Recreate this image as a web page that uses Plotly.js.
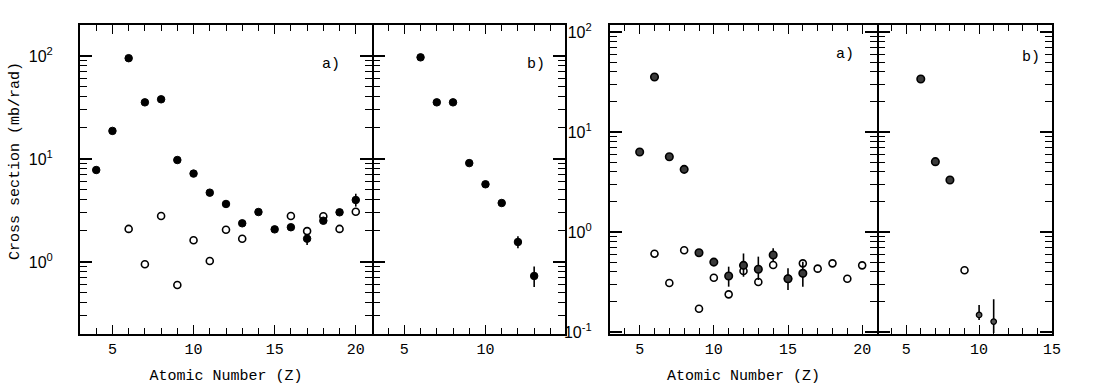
<!DOCTYPE html>
<html>
<head>
<meta charset="utf-8">
<script src="https://cdn.plot.ly/plotly-3.0.1.min.js"></script>
<style>html,body{margin:0;padding:0;background:#fff;}#chart{width:1106px;height:389px;}</style>
</head>
<body>
<div id="chart"></div>
<script>
// ---------- DATA ----------
// Left pair, panel a)
const leftA_filledZ = [4, 5, 6, 7, 8, 9, 10, 11, 12, 13, 14, 15, 16, 17, 18, 19, 20];
const leftA_filledY = [7.8, 18.7, 95, 35.4, 37.9, 9.75, 7.2, 4.7, 3.65, 2.37, 3.05, 2.07, 2.17, 1.68, 2.51, 3.03, 3.99];
const leftA_filledErrUp = [0, 0, 0, 0, 0, 0, 0, 0, 0, 0, 0, 0, 0, 0.14, 0, 0, 0.6];
const leftA_filledErrDn = [0, 0, 0, 0, 0, 0, 0, 0, 0, 0, 0, 0, 0, 0.22, 0, 0, 0.55];
const leftA_openZ = [6, 7, 8, 9, 10, 11, 12, 13, 16, 17, 18, 19, 20];
const leftA_openY = [2.09, 0.95, 2.79, 0.597, 1.62, 1.02, 2.05, 1.68, 2.79, 1.99, 2.77, 2.09, 3.07];
// Left pair, panel b)
const leftB_filledZ = [6, 7, 8, 9, 10, 11, 12, 13];
const leftB_filledY = [96.8, 35.4, 35.4, 9.1, 5.67, 3.73, 1.56, 0.73];
const leftB_filledErrUp = [0, 0, 0, 0, 0, 0, 0.21, 0.17];
const leftB_filledErrDn = [0, 0, 0, 0, 0, 0, 0.2, 0.16];
// Right pair, panel a)
const rightA_filledZ = [5, 6, 7, 8, 9, 10, 11, 12, 13, 14, 15, 16];
const rightA_filledY = [6.3, 35.5, 5.66, 4.23, 0.62, 0.50, 0.363, 0.464, 0.424, 0.589, 0.341, 0.386];
const rightA_filledErrUp = [0, 0, 0, 0, 0, 0, 0.087, 0.146, 0.143, 0.098, 0.093, 0.119];
const rightA_filledErrDn = [0, 0, 0, 0, 0, 0, 0.079, 0.107, 0.093, 0.084, 0.078, 0.102];
const rightA_openZ = [6, 7, 8, 9, 10, 11, 12, 13, 14, 15, 16, 17, 18, 19, 20];
const rightA_openY = [0.607, 0.309, 0.656, 0.171, 0.349, 0.238, 0.407, 0.316, 0.468, 0.341, 0.486, 0.43, 0.486, 0.341, 0.464];
// Right pair, panel b)
const rightB_filledZ = [6, 7, 8];
const rightB_filledY = [33.9, 5.05, 3.31];
const rightB_openZ = [9];
const rightB_openY = [0.414];
const rightB_smallZ = [10, 11];
const rightB_smallY = [0.148, 0.127];
const rightB_smallErrUp = [0.038, 0.085];
const rightB_smallErrDn = [0.016, 0.029];

const leftTickVals = [1, 10, 100];
const leftTickText = ['10<sup>0</sup>', '10<sup>1</sup>', '10<sup>2</sup>'];
const rightTickVals = [0.1, 1, 10, 100];
const rightTickText = ['10<sup>-1</sup>', '10<sup>0</sup>', '10<sup>1</sup>', '10<sup>2</sup>'];
const yTitle = 'Cross section (mb/rad)';
const xTitle = 'Atomic Number (Z)';

// ---------- STYLE ----------
const MONO = 'Liberation Mono, Courier New, monospace';
const SANS = 'Liberation Sans, Arial, sans-serif';
const pad = n => '&nbsp;'.repeat(n);

const filledMarker = {symbol: 'circle', size: 7.5, color: '#000', line: {color: '#000', width: 1}};
const filledMarkerR = {symbol: 'circle', size: 7.5, color: '#3a3a3a', line: {color: '#000', width: 1.6}};
const openMarker = {symbol: 'circle-open', size: 7, color: '#000', line: {color: '#000', width: 1.6}};
function err(up, dn) {
  return {type: 'data', symmetric: false, array: up, arrayminus: dn, color: '#000', thickness: 1.6, width: 0};
}
function sc(x, y, xa, ya, marker, e) {
  const t = {type: 'scatter', mode: 'markers', x: x, y: y, xaxis: xa, yaxis: ya, marker: marker, hoverinfo: 'skip', showlegend: false, cliponaxis: false};
  if (e) t.error_y = e;
  return t;
}

const data = [
  sc(leftA_openZ, leftA_openY, 'x', 'y', openMarker),
  sc(leftA_filledZ, leftA_filledY, 'x', 'y', filledMarker, err(leftA_filledErrUp, leftA_filledErrDn)),
  sc(leftB_filledZ, leftB_filledY, 'x2', 'y2', filledMarker, err(leftB_filledErrUp, leftB_filledErrDn)),
  sc(rightA_openZ, rightA_openY, 'x3', 'y3', openMarker),
  sc(rightA_filledZ, rightA_filledY, 'x3', 'y3', filledMarkerR, err(rightA_filledErrUp, rightA_filledErrDn)),
  sc(rightB_filledZ, rightB_filledY, 'x4', 'y4', filledMarkerR),
  sc(rightB_openZ, rightB_openY, 'x4', 'y4', openMarker),
  sc(rightB_smallZ, rightB_smallY, 'x4', 'y4', {symbol: 'circle', size: 5.5, color: '#555', line: {color: '#000', width: 1.3}}, err(rightB_smallErrUp, rightB_smallErrDn))
];

const W = 1106, H = 389;
const yTop = 1 - 25 / H, yBot = 1 - 334 / H;
function xax(x0, x1, range, anchor, title) {
  const a = {
    domain: [x0 / W, x1 / W], range: range, anchor: anchor,
    showline: true, linecolor: '#000', linewidth: 1.5, mirror: 'ticks',
    ticks: 'inside', ticklen: 9, tickwidth: 1.4, tickcolor: '#000',
    tick0: 0, dtick: 5,
    minor: {dtick: 1, ticks: 'inside', ticklen: 6, tickwidth: 1.3, tickcolor: '#000'},
    showgrid: false, zeroline: false,
    tickfont: {family: MONO, size: 15, color: '#000'}
  };
  if (title) a.title = {text: title, font: {family: MONO, size: 15, color: '#000'}, standoff: 12};
  return a;
}
function yax(range, anchor, vals, text, showLabels) {
  return {
    type: 'log', domain: [yBot, yTop], range: range, anchor: anchor,
    showline: true, linecolor: '#000', linewidth: 1.5, mirror: 'ticks',
    ticks: 'inside', ticklen: 12, tickwidth: 1.5, tickcolor: '#000',
    tickmode: 'array', tickvals: vals, ticktext: text,
    minor: {dtick: 'D1', ticks: 'inside', ticklen: 7, tickwidth: 1.3, tickcolor: '#000'},
    showgrid: false, zeroline: false, showticklabels: showLabels,
    tickfont: {family: SANS, size: 16, color: '#000'}
  };
}

const labelFont = {family: MONO, size: 15, color: '#000'};
const layout = {
  width: W, height: H,
  margin: {l: 0, r: 0, t: 0, b: 0},
  paper_bgcolor: '#fff', plot_bgcolor: 'rgba(0,0,0,0)',
  showlegend: false,
  xaxis: xax(80, 372, [3, 21], 'y', xTitle),
  xaxis2: xax(373.5, 565, [3.1, 14.9], 'y2'),
  xaxis3: xax(610, 877, [3, 21], 'y3', xTitle),
  xaxis4: xax(878.5, 1052, [3.1, 15], 'y4'),
  yaxis: yax([-0.7, 2.3], 'x', leftTickVals, leftTickText.map(t => t + pad(5)), true),
  yaxis2: yax([-0.7, 2.3], 'x2', leftTickVals, leftTickText, false),
  yaxis3: yax([-1.02, 2.07], 'x3', rightTickVals, rightTickText.map(t => t + pad(3)), true),
  yaxis4: yax([-1.02, 2.07], 'x4', rightTickVals, rightTickText, false),
  annotations: [
    {text: yTitle, xref: 'paper', yref: 'paper', x: 15 / W, y: 1 - 161 / H, xanchor: 'center', yanchor: 'middle', textangle: -90, showarrow: false, font: labelFont},
    {text: 'a)', xref: 'x domain', yref: 'y domain', x: 0.86, y: 0.871, xanchor: 'center', yanchor: 'middle', showarrow: false, font: labelFont},
    {text: 'b)', xref: 'x2 domain', yref: 'y2 domain', x: 0.849, y: 0.871, xanchor: 'center', yanchor: 'middle', showarrow: false, font: labelFont},
    {text: 'a)', xref: 'x3 domain', yref: 'y3 domain', x: 0.88, y: 0.903, xanchor: 'center', yanchor: 'middle', showarrow: false, font: labelFont},
    {text: 'b)', xref: 'x4 domain', yref: 'y4 domain', x: 0.879, y: 0.896, xanchor: 'center', yanchor: 'middle', showarrow: false, font: labelFont}
  ]
};

Plotly.newPlot('chart', data, layout, {displayModeBar: false});
</script>
</body>
</html>
